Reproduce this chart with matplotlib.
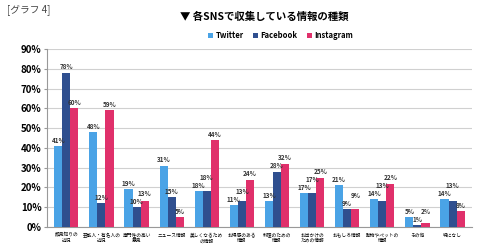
import numpy as np
import matplotlib.pyplot as plt

plt.rcParams['font.family'] = ['Noto Sans CJK JP', 'DejaVu Sans']

categories = ['顔見知りの\n近況', '芸能人・有名人の\n近況', '専門性の高い\n意見', 'ニュース情報',
              '美しくなるため\nの情報', 'お得感のある\n情報', '料理のための\n情報', 'お出かけの\nための情報',
              'おもしろ情報', '動物やペットの\n情報', 'その他', '特になし']
twitter = [41, 48, 19, 31, 18, 11, 13, 17, 21, 14, 5, 14]
facebook = [78, 12, 10, 15, 18, 13, 28, 17, 9, 13, 1, 13]
instagram = [60, 59, 13, 5, 44, 24, 32, 25, 9, 22, 2, 8]

series = [('Twitter', twitter, '#4aa3e6'),
          ('Facebook', facebook, '#2f4f8f'),
          ('Instagram', instagram, '#e0306b')]

fig = plt.figure(figsize=(4.9, 2.47), dpi=100)
ax = fig.add_axes([0.096, 0.081, 0.867, 0.72])

x = np.arange(len(categories))
w = 0.23
for i, (name, vals, col) in enumerate(series):
    ax.bar(x + (i - 1) * w, vals, w, color=col, label=name, zorder=3)

# value labels, lifted a little when the neighbour's label sits at the same height
for j in range(len(categories)):
    prev_y = None
    for i, (name, vals, col) in enumerate(series):
        y = vals[j] + 1.2
        if prev_y is not None and abs(y - prev_y) < 4:
            y = prev_y + 4
        ax.text(x[j] + (i - 1) * w, y, f'{vals[j]}%', ha='center', va='bottom',
                fontsize=4.6, fontweight='bold', color='#333333', zorder=4)
        prev_y = y

ax.set_ylim(0, 90)
ax.set_xlim(-0.55, len(categories) - 0.45)
ax.set_yticks(range(0, 91, 10))
ax.set_yticklabels([f'{t}%' for t in range(0, 91, 10)], fontsize=7, fontweight='bold')
ax.yaxis.grid(True, color='#d0d0d0', linewidth=0.8, zorder=0)
ax.set_xticks(x)
ax.set_xticklabels(categories, fontsize=3.4, linespacing=1.15)
ax.tick_params(axis='x', length=0, pad=4)
ax.tick_params(axis='y', length=2, color='#999999', pad=2)
for s in ['top', 'right']:
    ax.spines[s].set_visible(False)
ax.spines['left'].set_color('#999999')
ax.spines['bottom'].set_color('#999999')

fig.text(0.54, 0.93, '▼ 各SNSで収集している情報の種類', ha='center', va='center',
         fontsize=7.5, fontweight='bold')
fig.text(0.015, 0.96, '[グラフ 4]', ha='left', va='center', fontsize=7, color='#444444')
ax.legend(loc='lower center', bbox_to_anchor=(0.55, 1.01), ncol=3, frameon=False,
          handlelength=0.7, handleheight=0.7, columnspacing=1.2,
          handletextpad=0.3, prop={'weight': 'bold', 'size': 5.5})

fig.savefig('out.png', dpi=100)
